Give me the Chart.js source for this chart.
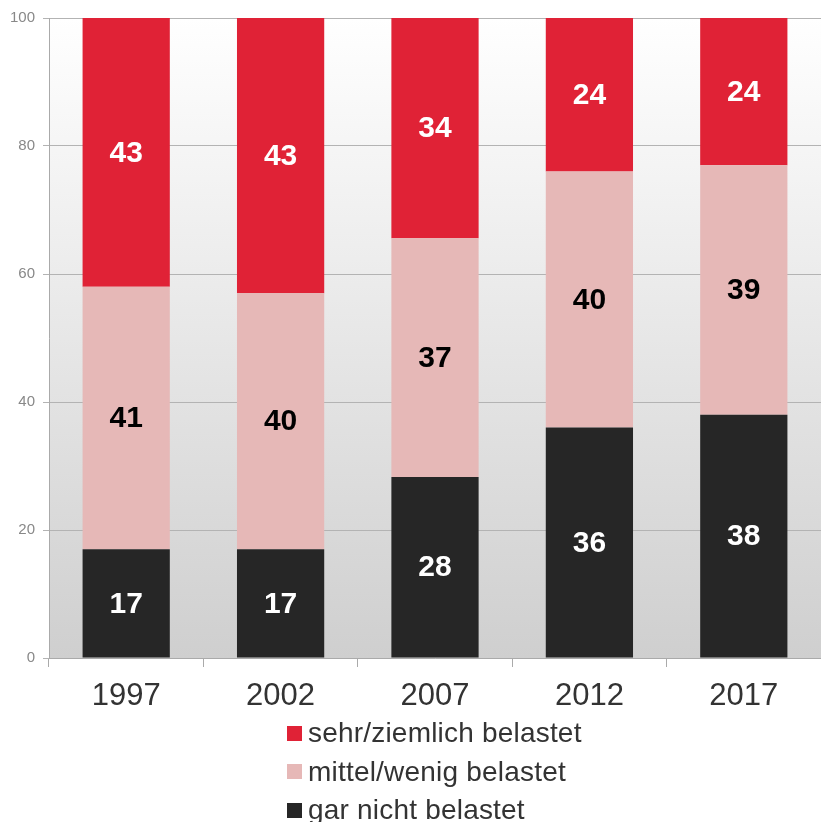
<!DOCTYPE html>
<html>
<head>
<meta charset="utf-8">
<script src="https://cdn.jsdelivr.net/npm/chart.js@4/dist/chart.umd.min.js"></script>
<style>
  html, body { margin: 0; padding: 0; background: #fff; }
  #wrap { position: relative; width: 821px; height: 822px; overflow: hidden; }
  #legend { position: absolute; left: 287px; top: 714px; font-family: "Liberation Sans", Arial, sans-serif; font-size: 28px; letter-spacing: 0.2px; color: #333; }
  .item { display: flex; align-items: center; height: 38.5px; white-space: nowrap; }
  .sw { width: 15px; height: 15px; margin-right: 6px; flex: none; }
</style>
</head>
<body>
<div id="wrap">
  <canvas id="c" width="821" height="822"></canvas>
  <div id="legend"></div>
</div>
<script>
const categories = ["1997", "2002", "2007", "2012", "2017"];
const seriesNames = ["gar nicht belastet", "mittel/wenig belastet", "sehr/ziemlich belastet"];
const garNicht = [17, 17, 28.3, 36, 38];
const mittelWenig = [41, 40, 37.3, 40, 39];
const sehrZiemlich = [43, 43, 34.4, 24, 24];
const yTicks = [0, 20, 40, 60, 80, 100];

const colors = ["#262626", "#e6b8b7", "#e02236"];
const labelColors = ["#ffffff", "#000000", "#ffffff"];

const bgPlugin = {
  id: 'bgGrad',
  beforeDraw(chart) {
    const { ctx, chartArea: a } = chart;
    const g = ctx.createLinearGradient(0, a.top, 0, a.bottom);
    g.addColorStop(0, '#ffffff');
    g.addColorStop(1, '#cfcfcf');
    ctx.save();
    ctx.fillStyle = g;
    ctx.fillRect(a.left, a.top, a.right - a.left, a.bottom - a.top);
    ctx.restore();
  }
};

const labelPlugin = {
  id: 'barLabels',
  afterDatasetsDraw(chart) {
    const { ctx, chartArea: a } = chart;
    ctx.save();
    ctx.font = 'bold 30px "Liberation Sans", Arial, sans-serif';
    ctx.textAlign = 'center';
    ctx.textBaseline = 'middle';
    chart.data.datasets.forEach((ds, di) => {
      const meta = chart.getDatasetMeta(di);
      meta.data.forEach((bar, i) => {
        const top = Math.max(Math.min(bar.y, bar.base), a.top);
        const bot = Math.min(Math.max(bar.y, bar.base), a.bottom);
        if (bot <= top) return;
        ctx.fillStyle = ds.labelColor;
        ctx.fillText(String(Math.round(ds.data[i])), bar.x, (top + bot) / 2 + 1);
      });
    });
    ctx.restore();
  }
};

const datasets = [garNicht, mittelWenig, sehrZiemlich].map((d, i) => ({
  label: seriesNames[i],
  data: d,
  backgroundColor: colors[i],
  labelColor: labelColors[i],
  borderWidth: 0,
  barPercentage: 0.565,
  categoryPercentage: 1
}));

new Chart(document.getElementById('c'), {
  type: 'bar',
  data: { labels: categories, datasets },
  options: {
    responsive: false,
    animation: false,
    layout: { padding: { top: 18, right: 0, left: 0, bottom: 0 } },
    plugins: { legend: { display: false }, tooltip: { enabled: false } },
    scales: {
      x: {
        stacked: true,
        afterFit(s) { s.height = 164; },
        grid: { drawOnChartArea: false, drawTicks: true, tickLength: 9, color: '#aaaaaa', offset: true },
        border: { display: true, color: '#aaaaaa', width: 1 },
        ticks: { color: '#333333', padding: 11, font: { family: '"Liberation Sans", Arial, sans-serif', size: 31 } }
      },
      y: {
        stacked: true,
        min: 0, max: 100,
        afterFit(s) { s.width = 49; },
        afterBuildTicks(s) { s.ticks = yTicks.map(v => ({ value: v })); },
        grid: { color: '#b3b3b3', lineWidth: 1, tickLength: 6, drawTicks: true },
        border: { display: true, color: '#aaaaaa', width: 1 },
        ticks: { color: '#888888', padding: 8, font: { family: '"Liberation Sans", Arial, sans-serif', size: 15 } }
      }
    }
  },
  plugins: [bgPlugin, labelPlugin]
});

const legend = document.getElementById('legend');
[2, 1, 0].forEach(i => {
  const it = document.createElement('div');
  it.className = 'item';
  const sw = document.createElement('span');
  sw.className = 'sw';
  sw.style.background = colors[i];
  const tx = document.createElement('span');
  tx.textContent = seriesNames[i];
  it.appendChild(sw); it.appendChild(tx);
  legend.appendChild(it);
});
</script>
</body>
</html>
